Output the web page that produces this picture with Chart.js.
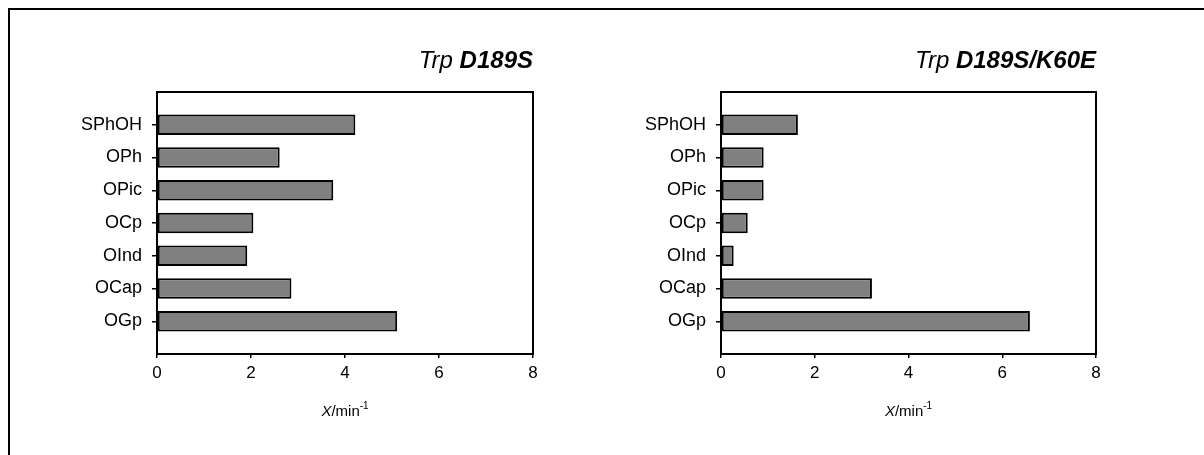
<!DOCTYPE html>
<html>
<head>
<meta charset="utf-8">
<script src="https://cdn.jsdelivr.net/npm/chart.js@4/dist/chart.umd.min.js"></script>
<style>
  html, body { margin: 0; padding: 0; background: #fff; }
  body { width: 1204px; height: 455px; position: relative; overflow: hidden; }
  .frame { position: absolute; left: 8px; top: 8px; width: 1300px; height: 600px;
           border-left: 2px solid #000; border-top: 2px solid #000; box-sizing: border-box; }
  .panel { position: absolute; top: 0; height: 455px; }
  #left  { left: 0;   width: 600px; }
  #right { left: 600px; width: 604px; }
</style>
</head>
<body>
<div class="frame"></div>
<div class="panel" id="left"><canvas id="c1" width="600" height="455"></canvas></div>
<div class="panel" id="right"><canvas id="c2" width="604" height="455"></canvas></div>
<script>
// Substrates (top to bottom) and rates X / min^-1 for the two enzyme variants
const categories = ['SPhOH', 'OPh', 'OPic', 'OCp', 'OInd', 'OCap', 'OGp'];
const ratesD189S = [4.22, 2.61, 3.75, 2.05, 1.92, 2.86, 5.11];
const ratesD189SK60E = [1.64, 0.91, 0.91, 0.57, 0.27, 3.22, 6.59];
const xTicks = [0, 2, 4, 6, 8];
const titleD189S = ['Trp ', 'D189S'];
const titleD189SK60E = ['Trp ', 'D189S/K60E'];

const FONT = '"Liberation Sans", Arial, sans-serif';

// An empty slot above and below keeps half a band of air at each end of the axis
const paddedLabels = [''].concat(categories, ['']);
const pad = arr => [null].concat(arr, [null]);

// Frame round the plot area, title (italic + bold italic) and the x-axis title
const decorations = {
  id: 'decorations',
  afterDraw(chart, args, opts) {
    const { ctx, chartArea: a } = chart;
    ctx.save();
    ctx.strokeStyle = '#000';
    ctx.lineWidth = 2;
    ctx.strokeRect(a.left, a.top, a.right - a.left, a.bottom - a.top);

    // title, right-aligned to the plot frame
    ctx.fillStyle = '#000';
    ctx.textBaseline = 'alphabetic';
    const plain = 'italic 24px ' + FONT;
    const bold = 'italic bold 24px ' + FONT;
    ctx.font = bold;
    const wBold = ctx.measureText(opts.title[1]).width;
    ctx.font = plain;
    const wPlain = ctx.measureText(opts.title[0]).width;
    const x0 = a.right - wBold - wPlain;
    ctx.textAlign = 'left';
    ctx.fillText(opts.title[0], x0, 68);
    ctx.font = bold;
    ctx.fillText(opts.title[1], x0 + wPlain, 68);

    // axis title: X/min^-1
    const cx = (a.left + a.right) / 2;
    const y = 416;
    const parts = [
      { t: 'X', f: 'italic 15px ' + FONT, dy: 0 },
      { t: '/min', f: '15px ' + FONT, dy: 0 },
      { t: '-1', f: '10px ' + FONT, dy: -7 }
    ];
    let total = 0;
    parts.forEach(p => { ctx.font = p.f; p.w = ctx.measureText(p.t).width; total += p.w; });
    let x = cx - total / 2;
    parts.forEach(p => { ctx.font = p.f; ctx.fillText(p.t, x, y + p.dy); x += p.w; });
    ctx.restore();
  }
};

function makeChart(canvasId, values, title, padding) {
  const lastIdx = paddedLabels.length - 1;
  return new Chart(document.getElementById(canvasId), {
    type: 'bar',
    data: {
      labels: paddedLabels,
      datasets: [{
        data: pad(values),
        backgroundColor: '#808080',
        borderColor: '#000',
        borderWidth: 2,
        borderSkipped: false,
        categoryPercentage: 1,
        barPercentage: 0.62
      }]
    },
    options: {
      indexAxis: 'y',
      responsive: false,
      animation: false,
      layout: { padding },
      plugins: {
        legend: { display: false },
        tooltip: { enabled: false },
        decorations: { title }
      },
      scales: {
        x: {
          type: 'linear',
          min: 0, max: 8,
          afterBuildTicks: s => { s.ticks = xTicks.map(v => ({ value: v })); },
          afterFit: s => { s.height = 40; },
          border: { display: true, color: '#000', width: 2 },
          grid: { drawOnChartArea: false, drawTicks: true, tickLength: 4, color: '#000', lineWidth: 1.5 },
          ticks: { color: '#000', font: { family: FONT, size: 17 }, padding: 5, maxRotation: 0 }
        },
        y: {
          type: 'category',
          offset: false,
          afterFit: s => { s.width = 120; },
          border: { display: true, color: '#000', width: 2 },
          grid: {
            offset: false,
            drawOnChartArea: false, drawTicks: true, tickLength: 5, lineWidth: 1.5,
            color: c => (c.index === 0 || c.index === lastIdx) ? 'rgba(0,0,0,0)' : '#000'
          },
          ticks: { color: '#000', font: { family: FONT, size: 18 }, padding: 10, autoSkip: false }
        }
      }
    },
    plugins: [decorations]
  });
}

makeChart('c1', ratesD189S, titleD189S, { left: 37, right: 67, top: 92, bottom: 61 });
makeChart('c2', ratesD189SK60E, titleD189SK60E, { left: 1, right: 108, top: 92, bottom: 61 });
</script>
</body>
</html>
